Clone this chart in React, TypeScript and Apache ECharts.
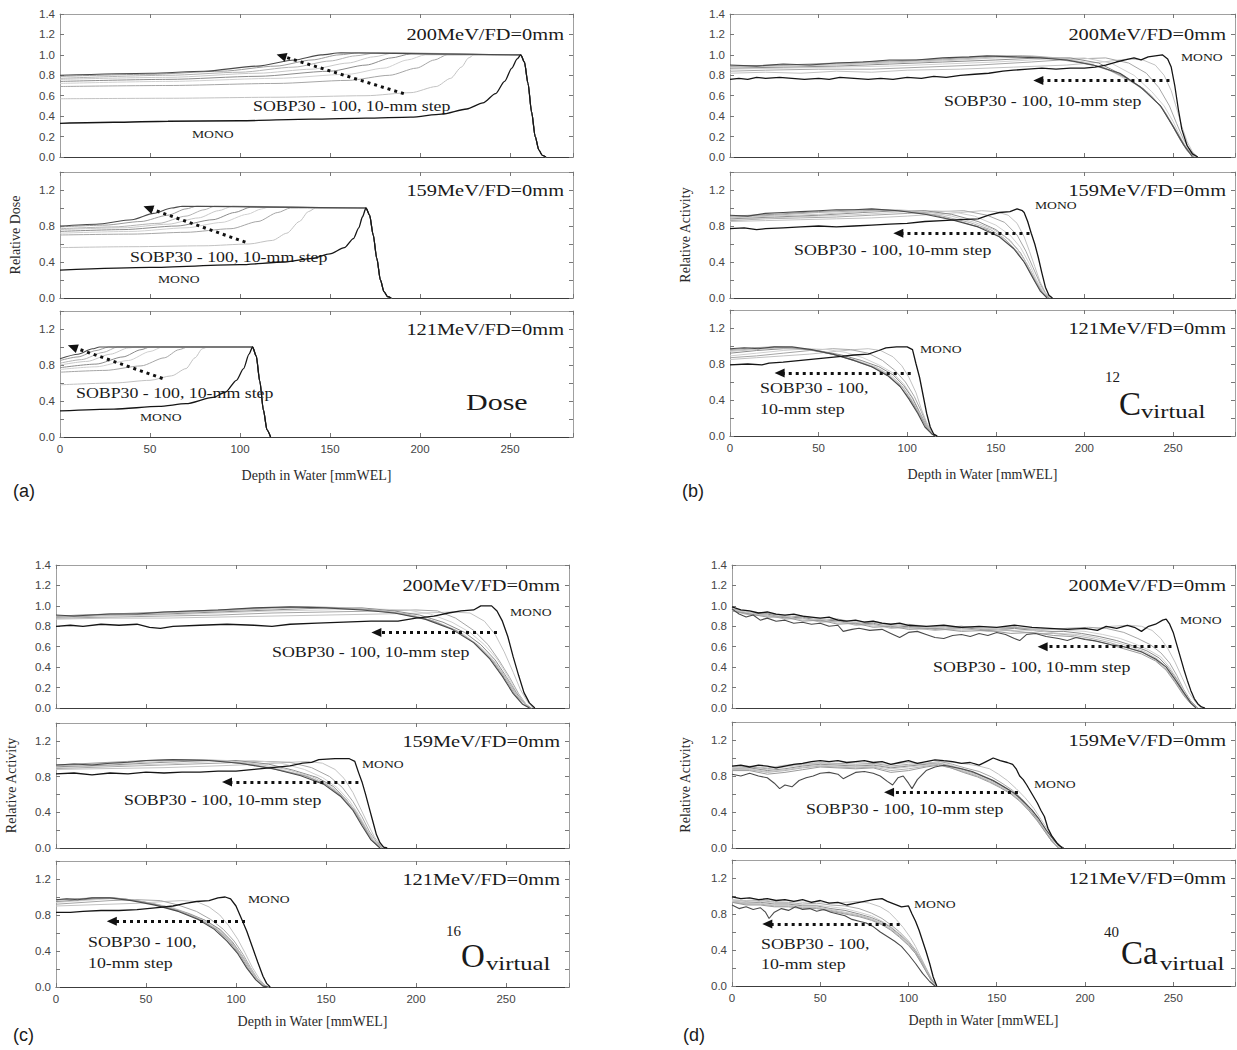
import React, { useEffect, useRef } from "react";
import * as echarts from "echarts";

type Pt = [number, number];

const X_MAX = 285;
const X_TICK_LABELS = [0, 50, 100, 150, 200, 250];
const Y_TICK_LABELS_TOP = [0, 0.2, 0.4, 0.6, 0.8, 1.0, 1.2, 1.4];
const Y_TICK_LABELS_SUB = [0, 0.4, 0.8, 1.2];
const ENERGY_LABELS = ["200MeV/FD=0mm", "159MeV/FD=0mm", "121MeV/FD=0mm"];
const SOBP_NAMES = ["SOBP30", "SOBP40", "SOBP50", "SOBP60", "SOBP70", "SOBP80", "SOBP90", "SOBP100"];
const X_TITLE = "Depth in Water [mmWEL]";

// ---------------- (a) Dose ----------------
const A200_FALL: Pt[] = [[258, 0.93], [260, 0.72], [262, 0.44], [264, 0.2], [266, 0.07], [268, 0.015], [270, 0]];
const A200_MONO: Pt[] = [[0, 0.33], [30, 0.34], [60, 0.35], [100, 0.355], [140, 0.37], [170, 0.38], [195, 0.39], [212, 0.42], [226, 0.47], [235, 0.53], [242, 0.62], [247, 0.74], [251, 0.87], [254, 0.96], [256, 1.0]];
const A200_SOBP: Pt[][] = [
  [[0, 0.57], [60, 0.575], [120, 0.585], [170, 0.6], [195, 0.63], [209, 0.69], [217, 0.77], [223, 0.88], [227, 0.97], [230, 1.0], [256, 1.0]],
  [[0, 0.69], [60, 0.7], [120, 0.72], [160, 0.75], [183, 0.8], [198, 0.87], [208, 0.95], [215, 1.0], [256, 1.0]],
  [[0, 0.72], [60, 0.74], [120, 0.77], [160, 0.81], [180, 0.87], [193, 0.95], [203, 1.0], [256, 1.0]],
  [[0, 0.74], [60, 0.76], [110, 0.79], [150, 0.84], [170, 0.9], [184, 0.97], [195, 1.01], [256, 1.0]],
  [[0, 0.76], [60, 0.78], [110, 0.82], [140, 0.86], [160, 0.92], [174, 0.98], [186, 1.02], [256, 1.0]],
  [[0, 0.77], [60, 0.8], [100, 0.83], [130, 0.88], [150, 0.94], [164, 0.99], [176, 1.02], [256, 1.0]],
  [[0, 0.79], [50, 0.81], [90, 0.84], [120, 0.89], [140, 0.95], [155, 1.0], [166, 1.02], [256, 1.0]],
  [[0, 0.8], [50, 0.82], [80, 0.84], [110, 0.89], [130, 0.95], [145, 1.0], [156, 1.02], [256, 1.0]],
];
const A200_ARROW: Pt[] = [[191, 0.62], [123, 0.99]];

const A159_FALL: Pt[] = [[172, 0.92], [174, 0.7], [176, 0.44], [178, 0.2], [180, 0.07], [182, 0.015], [184, 0]];
const A159_MONO: Pt[] = [[0, 0.31], [50, 0.34], [100, 0.37], [125, 0.4], [140, 0.44], [150, 0.49], [158, 0.56], [163, 0.66], [166, 0.78], [168, 0.9], [170, 1.0]];
const A159_SOBP: Pt[][] = [
  [[0, 0.56], [40, 0.57], [80, 0.58], [105, 0.6], [118, 0.64], [126, 0.72], [133, 0.85], [138, 0.96], [142, 1.0], [170, 1.0]],
  [[0, 0.7], [40, 0.71], [70, 0.73], [95, 0.77], [110, 0.85], [121, 0.95], [128, 1.0], [170, 1.0]],
  [[0, 0.72], [40, 0.74], [70, 0.78], [90, 0.84], [104, 0.93], [112, 0.99], [116, 1.01], [170, 1.0]],
  [[0, 0.74], [35, 0.76], [65, 0.8], [85, 0.87], [97, 0.95], [106, 1.01], [170, 1.0]],
  [[0, 0.76], [35, 0.78], [60, 0.82], [77, 0.89], [88, 0.97], [96, 1.02], [170, 1.0]],
  [[0, 0.77], [30, 0.79], [55, 0.83], [70, 0.91], [80, 0.98], [86, 1.02], [170, 1.0]],
  [[0, 0.79], [25, 0.81], [45, 0.85], [60, 0.92], [70, 0.99], [76, 1.02], [170, 1.0]],
  [[0, 0.8], [20, 0.82], [40, 0.87], [52, 0.94], [62, 1.0], [68, 1.02], [170, 1.0]],
];
const A159_ARROW: Pt[] = [[103, 0.62], [49, 1.0]];

const A121_FALL: Pt[] = [[109, 0.9], [111, 0.62], [113, 0.3], [115, 0.08], [117, 0]];
const A121_MONO: Pt[] = [[0, 0.29], [30, 0.31], [55, 0.34], [70, 0.37], [85, 0.44], [92, 0.5], [98, 0.63], [102, 0.76], [105, 0.92], [107, 1.0]];
const A121_SOBP: Pt[][] = [
  [[0, 0.58], [30, 0.6], [50, 0.63], [62, 0.68], [70, 0.76], [75, 0.88], [79, 0.98], [82, 1.0], [107, 1.0]],
  [[0, 0.72], [25, 0.74], [45, 0.79], [58, 0.88], [66, 0.97], [71, 1.0], [107, 1.0]],
  [[0, 0.75], [20, 0.78], [38, 0.85], [50, 0.95], [57, 1.0], [107, 1.0]],
  [[0, 0.77], [20, 0.81], [35, 0.89], [45, 0.97], [50, 1.0], [107, 1.0]],
  [[0, 0.8], [15, 0.84], [28, 0.92], [38, 0.99], [43, 1.0], [107, 1.0]],
  [[0, 0.82], [12, 0.86], [24, 0.94], [32, 1.0], [107, 1.0]],
  [[0, 0.85], [10, 0.89], [20, 0.96], [27, 1.0], [107, 1.0]],
  [[0, 0.87], [10, 0.92], [18, 0.98], [22, 1.0], [107, 1.0]],
];
const A121_ARROW: Pt[] = [[57, 0.65], [7, 1.0]];

// ---------------- (b) 12C virtual ----------------
const B200_MONO: Pt[] = [[0, 0.76], [5, 0.77], [10, 0.76], [15, 0.78], [20, 0.77], [28, 0.78], [35, 0.77], [42, 0.76], [50, 0.77], [56, 0.76], [62, 0.78], [70, 0.77], [78, 0.76], [85, 0.77], [92, 0.76], [100, 0.78], [108, 0.77], [115, 0.79], [122, 0.78], [130, 0.8], [138, 0.81], [146, 0.82], [154, 0.84], [160, 0.85], [168, 0.86], [176, 0.87], [184, 0.86], [192, 0.87], [200, 0.87], [206, 0.88], [212, 0.9], [218, 0.93], [223, 0.95], [228, 0.97], [232, 0.95], [236, 0.98], [240, 0.99], [244, 1.0], [247, 0.96], [249, 0.88], [251, 0.7], [253, 0.47], [255, 0.27], [258, 0.11], [261, 0.03], [264, 0]];
const B200_SOBP: Pt[][] = [
  [[0, 0.82], [20, 0.83], [40, 0.82], [60, 0.84], [80, 0.83], [100, 0.85], [130, 0.86], [160, 0.88], [190, 0.9], [210, 0.93], [225, 0.96], [233, 0.95], [240, 0.9], [245, 0.8], [249, 0.65], [252, 0.48], [255, 0.3], [258, 0.15], [261, 0.05], [264, 0]],
  [[0, 0.84], [20, 0.85], [50, 0.86], [80, 0.86], [110, 0.88], [140, 0.9], [170, 0.93], [195, 0.96], [212, 0.97], [225, 0.92], [235, 0.82], [242, 0.68], [248, 0.5], [252, 0.33], [256, 0.17], [260, 0.06], [263, 0]],
  [[0, 0.86], [30, 0.87], [60, 0.88], [90, 0.89], [120, 0.91], [150, 0.93], [180, 0.96], [200, 0.97], [215, 0.92], [228, 0.8], [238, 0.64], [245, 0.5], [250, 0.35], [255, 0.17], [259, 0.06], [263, 0]],
  [[0, 0.87], [30, 0.88], [60, 0.89], [90, 0.91], [120, 0.93], [150, 0.95], [175, 0.97], [192, 0.97], [208, 0.92], [222, 0.8], [234, 0.66], [243, 0.5], [249, 0.33], [254, 0.17], [258, 0.06], [262, 0]],
  [[0, 0.88], [30, 0.89], [60, 0.9], [90, 0.92], [120, 0.94], [150, 0.97], [170, 0.98], [185, 0.97], [200, 0.93], [215, 0.84], [228, 0.72], [238, 0.6], [246, 0.43], [252, 0.25], [257, 0.1], [262, 0]],
  [[0, 0.89], [30, 0.9], [60, 0.91], [90, 0.93], [120, 0.95], [150, 0.98], [170, 0.99], [185, 0.97], [200, 0.92], [212, 0.87], [225, 0.76], [236, 0.63], [245, 0.45], [251, 0.27], [257, 0.1], [262, 0]],
  [[0, 0.89], [30, 0.9], [60, 0.92], [90, 0.94], [120, 0.96], [150, 0.99], [165, 0.99], [180, 0.97], [195, 0.93], [210, 0.88], [222, 0.79], [234, 0.66], [244, 0.48], [251, 0.28], [257, 0.1], [262, 0]],
  [[0, 0.9], [15, 0.89], [30, 0.91], [45, 0.9], [60, 0.92], [75, 0.93], [90, 0.95], [105, 0.95], [120, 0.97], [135, 0.98], [145, 0.99], [160, 0.98], [175, 0.97], [190, 0.95], [205, 0.9], [220, 0.82], [232, 0.68], [243, 0.5], [250, 0.3], [256, 0.12], [261, 0]],
];
const B200_ARROW: Pt[] = [[248, 0.75], [174, 0.75]];

const B159_MONO: Pt[] = [[0, 0.77], [8, 0.78], [15, 0.76], [20, 0.77], [30, 0.78], [40, 0.79], [50, 0.8], [60, 0.79], [70, 0.8], [80, 0.81], [90, 0.82], [100, 0.83], [110, 0.85], [120, 0.86], [130, 0.87], [140, 0.88], [146, 0.92], [152, 0.95], [158, 0.96], [162, 0.99], [165, 0.97], [166, 0.95], [168, 0.85], [170, 0.72], [172, 0.6], [174, 0.45], [176, 0.28], [178, 0.12], [180, 0.03], [182, 0]];
const B159_SOBP: Pt[][] = [
  [[0, 0.85], [20, 0.86], [40, 0.87], [60, 0.88], [80, 0.89], [100, 0.91], [115, 0.93], [130, 0.95], [142, 0.97], [150, 0.96], [157, 0.92], [162, 0.83], [166, 0.68], [169, 0.52], [172, 0.35], [175, 0.18], [178, 0.06], [181, 0]],
  [[0, 0.86], [20, 0.88], [40, 0.89], [60, 0.9], [80, 0.92], [100, 0.94], [118, 0.96], [132, 0.97], [145, 0.92], [155, 0.84], [162, 0.7], [167, 0.52], [171, 0.34], [175, 0.16], [178, 0.05], [181, 0]],
  [[0, 0.87], [25, 0.89], [50, 0.91], [75, 0.93], [100, 0.96], [115, 0.97], [125, 0.96], [138, 0.91], [150, 0.81], [158, 0.7], [164, 0.56], [169, 0.38], [173, 0.2], [177, 0.07], [180, 0]],
  [[0, 0.88], [25, 0.9], [50, 0.92], [75, 0.95], [95, 0.97], [110, 0.97], [125, 0.93], [140, 0.85], [150, 0.76], [158, 0.64], [164, 0.5], [169, 0.33], [173, 0.17], [177, 0.05], [180, 0]],
  [[0, 0.89], [25, 0.91], [50, 0.93], [75, 0.96], [95, 0.98], [110, 0.96], [125, 0.91], [138, 0.84], [148, 0.77], [156, 0.67], [162, 0.55], [167, 0.4], [172, 0.22], [176, 0.08], [179, 0]],
  [[0, 0.9], [25, 0.92], [50, 0.95], [75, 0.97], [90, 0.98], [105, 0.96], [120, 0.91], [135, 0.84], [147, 0.76], [155, 0.66], [162, 0.52], [167, 0.37], [172, 0.2], [176, 0.07], [179, 0]],
  [[0, 0.91], [25, 0.93], [50, 0.96], [70, 0.98], [85, 0.98], [100, 0.96], [115, 0.92], [130, 0.85], [145, 0.76], [154, 0.66], [161, 0.53], [167, 0.37], [172, 0.19], [176, 0.06], [179, 0]],
  [[0, 0.92], [10, 0.91], [20, 0.94], [30, 0.95], [40, 0.96], [50, 0.97], [60, 0.98], [70, 0.98], [80, 0.99], [95, 0.97], [110, 0.93], [125, 0.87], [140, 0.79], [152, 0.68], [160, 0.55], [166, 0.4], [171, 0.22], [175, 0.08], [179, 0]],
];
const B159_ARROW: Pt[] = [[169, 0.72], [95, 0.72]];

const B121_MONO: Pt[] = [[0, 0.79], [10, 0.8], [18, 0.79], [22, 0.81], [30, 0.82], [40, 0.84], [50, 0.86], [60, 0.88], [70, 0.9], [78, 0.91], [84, 0.95], [88, 0.98], [94, 0.99], [100, 0.99], [103, 0.96], [105, 0.8], [107, 0.65], [109, 0.45], [111, 0.25], [113, 0.1], [115, 0.02], [117, 0]];
const B121_SOBP: Pt[][] = [
  [[0, 0.85], [15, 0.87], [30, 0.89], [45, 0.91], [60, 0.94], [70, 0.96], [78, 0.97], [85, 0.95], [92, 0.88], [97, 0.78], [101, 0.65], [105, 0.48], [108, 0.3], [111, 0.15], [114, 0.04], [116, 0]],
  [[0, 0.87], [15, 0.89], [30, 0.92], [45, 0.95], [58, 0.97], [68, 0.96], [78, 0.92], [86, 0.84], [93, 0.73], [99, 0.6], [104, 0.44], [108, 0.27], [111, 0.13], [114, 0.03], [116, 0]],
  [[0, 0.89], [15, 0.92], [30, 0.95], [45, 0.97], [55, 0.96], [65, 0.93], [75, 0.87], [84, 0.79], [92, 0.7], [98, 0.58], [103, 0.43], [107, 0.27], [111, 0.12], [114, 0.03], [116, 0]],
  [[0, 0.92], [15, 0.95], [30, 0.97], [40, 0.97], [52, 0.94], [63, 0.9], [74, 0.84], [84, 0.77], [92, 0.68], [98, 0.56], [103, 0.42], [107, 0.26], [111, 0.11], [114, 0.02], [116, 0]],
  [[0, 0.94], [15, 0.96], [28, 0.98], [38, 0.97], [50, 0.94], [62, 0.89], [73, 0.83], [83, 0.76], [91, 0.67], [97, 0.56], [102, 0.42], [107, 0.25], [111, 0.1], [114, 0.02], [116, 0]],
  [[0, 0.95], [15, 0.97], [25, 0.98], [35, 0.98], [48, 0.95], [60, 0.9], [72, 0.83], [82, 0.76], [90, 0.67], [97, 0.55], [102, 0.41], [107, 0.24], [111, 0.1], [114, 0.02], [116, 0]],
  [[0, 0.96], [12, 0.98], [25, 0.99], [35, 0.98], [47, 0.95], [60, 0.9], [71, 0.83], [81, 0.76], [90, 0.66], [96, 0.55], [102, 0.4], [107, 0.23], [111, 0.09], [114, 0.02], [116, 0]],
  [[0, 0.97], [8, 0.98], [16, 0.97], [25, 0.99], [35, 0.99], [46, 0.96], [58, 0.91], [70, 0.84], [80, 0.77], [89, 0.67], [96, 0.55], [101, 0.41], [106, 0.25], [110, 0.1], [114, 0.02], [116, 0]],
];
const B121_ARROW: Pt[] = [[102, 0.7], [28, 0.7]];

// ---------------- (c) 16O virtual ----------------
const C200_MONO: Pt[] = [[0, 0.8], [8, 0.81], [15, 0.8], [25, 0.82], [35, 0.81], [45, 0.82], [52, 0.79], [58, 0.78], [65, 0.8], [80, 0.81], [95, 0.82], [110, 0.81], [120, 0.8], [130, 0.82], [145, 0.83], [160, 0.84], [175, 0.85], [190, 0.85], [200, 0.88], [210, 0.9], [218, 0.93], [225, 0.95], [232, 0.96], [236, 1.0], [242, 1.0], [245, 0.95], [248, 0.85], [251, 0.7], [254, 0.5], [257, 0.32], [260, 0.15], [263, 0.05], [266, 0]];
const C200_SOBP: Pt[][] = [
  [[0, 0.87], [30, 0.88], [60, 0.88], [90, 0.89], [120, 0.9], [150, 0.91], [180, 0.92], [205, 0.93], [220, 0.94], [230, 0.93], [238, 0.85], [244, 0.72], [249, 0.55], [254, 0.35], [258, 0.18], [262, 0.06], [265, 0]],
  [[0, 0.88], [30, 0.89], [60, 0.9], [90, 0.91], [120, 0.93], [150, 0.94], [180, 0.95], [200, 0.96], [212, 0.95], [222, 0.88], [232, 0.76], [240, 0.62], [246, 0.47], [252, 0.3], [257, 0.14], [261, 0.04], [264, 0]],
  [[0, 0.89], [30, 0.9], [60, 0.91], [90, 0.93], [120, 0.95], [150, 0.96], [175, 0.97], [195, 0.96], [208, 0.92], [220, 0.84], [230, 0.74], [238, 0.62], [245, 0.48], [251, 0.31], [256, 0.15], [261, 0.04], [264, 0]],
  [[0, 0.89], [30, 0.91], [60, 0.92], [90, 0.94], [120, 0.96], [150, 0.98], [170, 0.98], [188, 0.95], [202, 0.91], [215, 0.84], [227, 0.74], [236, 0.62], [244, 0.47], [250, 0.31], [256, 0.14], [261, 0.03], [264, 0]],
  [[0, 0.9], [30, 0.91], [60, 0.93], [90, 0.95], [120, 0.97], [145, 0.99], [165, 0.98], [182, 0.95], [198, 0.91], [212, 0.84], [225, 0.74], [235, 0.61], [243, 0.47], [250, 0.3], [256, 0.13], [261, 0.03], [264, 0]],
  [[0, 0.9], [30, 0.92], [60, 0.93], [90, 0.95], [120, 0.98], [140, 0.99], [160, 0.98], [178, 0.96], [195, 0.92], [210, 0.85], [223, 0.75], [234, 0.62], [243, 0.46], [250, 0.29], [256, 0.12], [261, 0.03], [264, 0]],
  [[0, 0.9], [30, 0.92], [60, 0.94], [90, 0.96], [115, 0.98], [135, 0.99], [155, 0.98], [175, 0.96], [192, 0.92], [208, 0.86], [222, 0.76], [233, 0.63], [242, 0.47], [249, 0.3], [255, 0.13], [260, 0.03], [264, 0]],
  [[0, 0.91], [10, 0.9], [20, 0.91], [30, 0.92], [45, 0.92], [60, 0.94], [75, 0.95], [90, 0.96], [110, 0.98], [130, 0.99], [150, 0.98], [170, 0.96], [188, 0.93], [205, 0.87], [220, 0.77], [232, 0.64], [241, 0.48], [248, 0.31], [254, 0.14], [259, 0.04], [263, 0]],
];
const C200_ARROW: Pt[] = [[245, 0.74], [178, 0.74]];

const C159_MONO: Pt[] = [[0, 0.83], [10, 0.84], [20, 0.82], [30, 0.84], [40, 0.83], [50, 0.85], [60, 0.84], [70, 0.85], [80, 0.85], [90, 0.86], [100, 0.86], [110, 0.88], [120, 0.9], [130, 0.92], [137, 0.95], [142, 0.96], [146, 0.99], [155, 1.0], [163, 1.0], [166, 0.97], [168, 0.85], [170, 0.74], [172, 0.6], [174, 0.45], [176, 0.3], [178, 0.15], [180, 0.06], [182, 0.01], [184, 0]];
const C159_SOBP: Pt[][] = [
  [[0, 0.88], [30, 0.89], [60, 0.9], [90, 0.92], [115, 0.94], [130, 0.96], [140, 0.97], [148, 0.95], [155, 0.88], [160, 0.78], [165, 0.62], [169, 0.45], [173, 0.28], [177, 0.12], [180, 0.04], [183, 0]],
  [[0, 0.89], [30, 0.91], [60, 0.93], [90, 0.95], [115, 0.97], [130, 0.96], [142, 0.9], [152, 0.8], [159, 0.68], [165, 0.52], [170, 0.35], [174, 0.19], [178, 0.07], [182, 0]],
  [[0, 0.9], [30, 0.92], [60, 0.94], [90, 0.97], [110, 0.98], [125, 0.95], [138, 0.88], [148, 0.79], [156, 0.68], [163, 0.53], [168, 0.38], [173, 0.2], [177, 0.08], [181, 0]],
  [[0, 0.91], [30, 0.93], [60, 0.96], [85, 0.98], [100, 0.98], [118, 0.94], [132, 0.87], [145, 0.79], [154, 0.69], [161, 0.55], [167, 0.39], [172, 0.22], [176, 0.09], [181, 0]],
  [[0, 0.92], [30, 0.94], [60, 0.97], [80, 0.99], [95, 0.98], [112, 0.94], [128, 0.88], [142, 0.8], [152, 0.7], [160, 0.57], [166, 0.42], [171, 0.25], [176, 0.09], [180, 0]],
  [[0, 0.92], [30, 0.95], [55, 0.98], [75, 0.99], [90, 0.98], [108, 0.94], [124, 0.88], [140, 0.8], [151, 0.7], [159, 0.58], [166, 0.42], [171, 0.24], [176, 0.08], [180, 0]],
  [[0, 0.93], [30, 0.96], [50, 0.98], [70, 0.99], [88, 0.98], [105, 0.94], [122, 0.88], [138, 0.81], [150, 0.71], [158, 0.59], [165, 0.43], [171, 0.24], [175, 0.09], [180, 0]],
  [[0, 0.93], [10, 0.94], [20, 0.93], [30, 0.95], [40, 0.96], [50, 0.98], [65, 0.99], [85, 0.98], [102, 0.95], [120, 0.89], [136, 0.81], [149, 0.71], [158, 0.58], [165, 0.42], [170, 0.25], [175, 0.09], [180, 0]],
];
const C159_ARROW: Pt[] = [[168, 0.74], [95, 0.74]];

const C121_MONO: Pt[] = [[0, 0.83], [8, 0.83], [15, 0.84], [25, 0.85], [35, 0.85], [45, 0.86], [55, 0.88], [65, 0.9], [72, 0.93], [78, 0.95], [85, 0.96], [90, 0.99], [94, 1.0], [97, 0.98], [100, 0.9], [103, 0.76], [106, 0.62], [109, 0.45], [112, 0.28], [115, 0.12], [117, 0.04], [119, 0]];
const C121_SOBP: Pt[][] = [
  [[0, 0.9], [15, 0.91], [30, 0.92], [45, 0.93], [60, 0.95], [70, 0.96], [78, 0.95], [85, 0.89], [91, 0.8], [96, 0.68], [101, 0.53], [105, 0.38], [109, 0.22], [113, 0.09], [116, 0.02], [118, 0]],
  [[0, 0.92], [15, 0.94], [30, 0.96], [45, 0.97], [58, 0.96], [68, 0.91], [78, 0.84], [86, 0.75], [93, 0.64], [99, 0.51], [104, 0.36], [108, 0.22], [112, 0.09], [116, 0.02], [118, 0]],
  [[0, 0.94], [15, 0.96], [30, 0.98], [42, 0.97], [54, 0.93], [65, 0.88], [75, 0.81], [84, 0.73], [92, 0.63], [98, 0.5], [103, 0.36], [108, 0.21], [112, 0.08], [116, 0.01], [118, 0]],
  [[0, 0.95], [15, 0.97], [28, 0.99], [38, 0.98], [50, 0.94], [62, 0.89], [73, 0.82], [83, 0.74], [91, 0.64], [98, 0.5], [103, 0.36], [108, 0.2], [112, 0.08], [116, 0.01], [118, 0]],
  [[0, 0.96], [12, 0.98], [25, 0.99], [35, 0.98], [47, 0.95], [60, 0.9], [71, 0.83], [82, 0.74], [90, 0.64], [97, 0.51], [103, 0.36], [108, 0.2], [112, 0.08], [116, 0.01], [118, 0]],
  [[0, 0.97], [12, 0.98], [25, 0.99], [33, 0.99], [45, 0.96], [58, 0.9], [70, 0.83], [81, 0.74], [90, 0.63], [97, 0.5], [103, 0.35], [108, 0.19], [112, 0.07], [116, 0.01], [118, 0]],
  [[0, 0.97], [10, 0.98], [22, 0.99], [32, 0.99], [44, 0.96], [57, 0.91], [69, 0.84], [80, 0.75], [89, 0.64], [96, 0.51], [102, 0.36], [107, 0.2], [111, 0.08], [115, 0.01], [118, 0]],
  [[0, 0.97], [6, 0.98], [12, 0.97], [20, 0.99], [30, 0.99], [42, 0.96], [55, 0.91], [68, 0.84], [79, 0.75], [88, 0.64], [95, 0.51], [101, 0.37], [106, 0.21], [111, 0.08], [115, 0.01], [118, 0]],
];
const C121_ARROW: Pt[] = [[105, 0.73], [31, 0.73]];

// ---------------- (d) 40Ca virtual ----------------
const D200_MONO: Pt[] = [[0, 0.99], [5, 0.96], [10, 0.95], [15, 0.93], [20, 0.94], [25, 0.92], [30, 0.91], [35, 0.92], [40, 0.9], [45, 0.89], [50, 0.88], [55, 0.89], [60, 0.86], [65, 0.85], [70, 0.86], [75, 0.84], [80, 0.85], [85, 0.83], [90, 0.82], [95, 0.83], [100, 0.81], [110, 0.8], [120, 0.81], [130, 0.79], [140, 0.8], [150, 0.79], [160, 0.81], [170, 0.79], [180, 0.78], [190, 0.77], [200, 0.78], [207, 0.76], [212, 0.8], [218, 0.78], [224, 0.81], [228, 0.79], [232, 0.75], [236, 0.8], [240, 0.82], [244, 0.86], [246, 0.87], [248, 0.82], [250, 0.74], [252, 0.62], [254, 0.5], [256, 0.38], [258, 0.27], [260, 0.17], [262, 0.09], [264, 0.04], [266, 0.01], [268, 0]];
const D200_SOBP: Pt[][] = [
  [[0, 0.97], [10, 0.94], [20, 0.93], [30, 0.9], [40, 0.9], [50, 0.87], [60, 0.87], [70, 0.84], [80, 0.85], [90, 0.81], [100, 0.82], [115, 0.79], [130, 0.8], [145, 0.78], [160, 0.79], [175, 0.77], [190, 0.78], [205, 0.77], [215, 0.8], [225, 0.81], [232, 0.8], [238, 0.76], [243, 0.68], [247, 0.58], [251, 0.45], [255, 0.3], [259, 0.15], [263, 0.05], [266, 0]],
  [[0, 0.97], [10, 0.93], [20, 0.93], [30, 0.89], [40, 0.9], [50, 0.86], [60, 0.87], [70, 0.83], [80, 0.84], [90, 0.81], [100, 0.81], [115, 0.78], [130, 0.8], [145, 0.77], [160, 0.79], [175, 0.76], [190, 0.78], [202, 0.79], [212, 0.78], [222, 0.74], [230, 0.68], [237, 0.62], [243, 0.54], [248, 0.44], [252, 0.32], [256, 0.18], [260, 0.07], [264, 0]],
  [[0, 0.96], [10, 0.94], [20, 0.9], [30, 0.91], [40, 0.87], [50, 0.88], [60, 0.84], [70, 0.85], [80, 0.81], [90, 0.82], [100, 0.79], [115, 0.8], [130, 0.77], [145, 0.79], [160, 0.76], [175, 0.78], [190, 0.76], [200, 0.75], [210, 0.72], [220, 0.68], [228, 0.63], [236, 0.57], [243, 0.5], [248, 0.4], [252, 0.29], [256, 0.16], [260, 0.06], [263, 0]],
  [[0, 0.96], [10, 0.92], [20, 0.92], [30, 0.88], [40, 0.89], [50, 0.85], [60, 0.86], [70, 0.82], [80, 0.83], [90, 0.79], [100, 0.8], [115, 0.77], [130, 0.79], [145, 0.76], [160, 0.78], [175, 0.75], [188, 0.75], [198, 0.73], [208, 0.7], [218, 0.66], [227, 0.61], [235, 0.56], [242, 0.49], [247, 0.4], [252, 0.28], [256, 0.15], [260, 0.05], [263, 0]],
  [[0, 0.96], [10, 0.93], [20, 0.9], [30, 0.9], [40, 0.86], [50, 0.87], [60, 0.83], [70, 0.84], [80, 0.8], [90, 0.81], [100, 0.78], [115, 0.79], [130, 0.76], [145, 0.78], [160, 0.75], [172, 0.76], [185, 0.73], [196, 0.72], [206, 0.69], [216, 0.65], [226, 0.6], [234, 0.55], [241, 0.48], [247, 0.39], [252, 0.27], [256, 0.14], [260, 0.05], [263, 0]],
  [[0, 0.95], [10, 0.91], [20, 0.91], [30, 0.87], [40, 0.88], [50, 0.84], [60, 0.85], [70, 0.81], [80, 0.82], [90, 0.78], [100, 0.79], [115, 0.76], [130, 0.78], [145, 0.75], [158, 0.76], [170, 0.73], [182, 0.73], [194, 0.71], [204, 0.68], [214, 0.64], [224, 0.59], [233, 0.54], [240, 0.47], [246, 0.38], [251, 0.26], [256, 0.13], [260, 0.04], [263, 0]],
  [[0, 0.95], [10, 0.92], [20, 0.89], [30, 0.89], [40, 0.85], [50, 0.86], [60, 0.82], [70, 0.83], [80, 0.79], [90, 0.8], [100, 0.77], [115, 0.78], [130, 0.75], [145, 0.76], [158, 0.73], [170, 0.74], [182, 0.71], [192, 0.7], [202, 0.67], [212, 0.63], [222, 0.58], [232, 0.53], [240, 0.46], [246, 0.37], [251, 0.25], [256, 0.12], [260, 0.04], [263, 0]],
  [[0, 0.97], [4, 0.92], [8, 0.89], [12, 0.91], [16, 0.86], [20, 0.88], [25, 0.85], [30, 0.86], [35, 0.83], [40, 0.84], [45, 0.82], [50, 0.83], [55, 0.8], [60, 0.81], [63, 0.75], [68, 0.77], [72, 0.78], [78, 0.76], [85, 0.77], [90, 0.73], [95, 0.69], [100, 0.74], [105, 0.75], [110, 0.72], [115, 0.69], [120, 0.68], [125, 0.71], [130, 0.72], [135, 0.7], [140, 0.73], [145, 0.71], [150, 0.74], [155, 0.72], [160, 0.68], [163, 0.66], [167, 0.72], [172, 0.73], [178, 0.7], [185, 0.68], [190, 0.66], [195, 0.69], [200, 0.67], [205, 0.66], [215, 0.62], [222, 0.6], [232, 0.55], [240, 0.48], [246, 0.4], [251, 0.28], [256, 0.15], [260, 0.05], [263, 0]],
];
const D200_ARROW: Pt[] = [[249, 0.6], [176, 0.6]];

const D159_MONO: Pt[] = [[0, 0.91], [5, 0.92], [10, 0.9], [15, 0.92], [20, 0.91], [25, 0.89], [30, 0.91], [35, 0.93], [40, 0.94], [45, 0.96], [50, 0.97], [55, 0.96], [60, 0.97], [65, 0.95], [70, 0.96], [75, 0.97], [80, 0.95], [85, 0.96], [90, 0.93], [95, 0.95], [100, 0.97], [105, 0.94], [110, 0.96], [115, 0.98], [120, 0.97], [125, 0.96], [130, 0.94], [135, 0.95], [140, 0.92], [144, 0.96], [148, 1.0], [152, 0.97], [156, 0.95], [159, 0.93], [161, 0.88], [163, 0.8], [165, 0.76], [167, 0.7], [170, 0.6], [173, 0.5], [175, 0.42], [177, 0.35], [179, 0.22], [181, 0.14], [184, 0.06], [187, 0]];
const D159_SOBP: Pt[][] = [
  [[0, 0.9], [10, 0.91], [20, 0.89], [30, 0.92], [40, 0.94], [50, 0.95], [60, 0.94], [70, 0.95], [80, 0.94], [90, 0.93], [100, 0.95], [110, 0.94], [118, 0.96], [126, 0.95], [134, 0.93], [140, 0.91], [146, 0.88], [151, 0.82], [156, 0.75], [161, 0.66], [166, 0.56], [171, 0.44], [175, 0.32], [179, 0.2], [183, 0.08], [187, 0]],
  [[0, 0.9], [10, 0.9], [20, 0.88], [30, 0.91], [40, 0.93], [50, 0.94], [60, 0.94], [70, 0.93], [80, 0.94], [90, 0.91], [100, 0.93], [110, 0.94], [118, 0.96], [125, 0.93], [132, 0.89], [140, 0.85], [147, 0.79], [153, 0.72], [159, 0.64], [164, 0.55], [169, 0.44], [174, 0.32], [178, 0.2], [182, 0.09], [186, 0]],
  [[0, 0.89], [10, 0.89], [20, 0.87], [30, 0.9], [40, 0.92], [50, 0.94], [60, 0.93], [70, 0.92], [80, 0.93], [90, 0.9], [100, 0.92], [110, 0.94], [117, 0.95], [124, 0.92], [131, 0.88], [139, 0.83], [146, 0.77], [152, 0.71], [158, 0.64], [163, 0.55], [168, 0.45], [173, 0.33], [177, 0.21], [181, 0.09], [185, 0]],
  [[0, 0.88], [10, 0.89], [20, 0.86], [30, 0.88], [40, 0.91], [50, 0.93], [60, 0.92], [70, 0.91], [80, 0.92], [90, 0.89], [100, 0.91], [110, 0.93], [117, 0.94], [124, 0.91], [131, 0.87], [139, 0.82], [146, 0.76], [152, 0.7], [158, 0.63], [163, 0.55], [168, 0.44], [173, 0.32], [177, 0.2], [181, 0.09], [185, 0]],
  [[0, 0.88], [10, 0.88], [20, 0.85], [30, 0.87], [40, 0.9], [50, 0.92], [60, 0.91], [70, 0.9], [80, 0.91], [90, 0.88], [100, 0.9], [110, 0.92], [117, 0.94], [124, 0.9], [131, 0.86], [139, 0.81], [146, 0.75], [152, 0.69], [158, 0.62], [163, 0.54], [168, 0.43], [173, 0.31], [177, 0.2], [181, 0.08], [185, 0]],
  [[0, 0.87], [10, 0.87], [20, 0.84], [30, 0.86], [40, 0.89], [50, 0.91], [60, 0.9], [70, 0.89], [80, 0.9], [90, 0.86], [100, 0.88], [110, 0.91], [117, 0.93], [124, 0.89], [131, 0.85], [139, 0.8], [146, 0.74], [152, 0.68], [158, 0.61], [163, 0.53], [168, 0.42], [173, 0.31], [177, 0.19], [181, 0.08], [185, 0]],
  [[0, 0.86], [10, 0.86], [20, 0.82], [30, 0.84], [40, 0.87], [50, 0.9], [60, 0.89], [70, 0.88], [80, 0.89], [90, 0.84], [100, 0.86], [110, 0.9], [117, 0.92], [124, 0.89], [131, 0.84], [139, 0.79], [146, 0.73], [152, 0.67], [158, 0.6], [163, 0.52], [168, 0.42], [173, 0.3], [177, 0.19], [181, 0.08], [185, 0]],
  [[0, 0.82], [5, 0.8], [10, 0.83], [15, 0.8], [20, 0.78], [24, 0.72], [27, 0.66], [30, 0.7], [34, 0.68], [38, 0.75], [42, 0.78], [46, 0.8], [50, 0.83], [55, 0.84], [60, 0.82], [63, 0.77], [66, 0.8], [70, 0.84], [75, 0.85], [80, 0.83], [84, 0.8], [88, 0.74], [91, 0.7], [94, 0.78], [97, 0.8], [100, 0.72], [102, 0.66], [105, 0.76], [110, 0.86], [115, 0.9], [120, 0.92], [125, 0.9], [130, 0.88], [136, 0.85], [142, 0.8], [148, 0.75], [154, 0.68], [160, 0.61], [165, 0.52], [170, 0.42], [174, 0.32], [178, 0.2], [182, 0.1], [185, 0.03], [188, 0]],
];
const D159_ARROW: Pt[] = [[162, 0.62], [89, 0.62]];

const D121_MONO: Pt[] = [[0, 0.99], [5, 0.97], [10, 0.98], [15, 0.96], [20, 0.97], [25, 0.95], [30, 0.96], [35, 0.94], [40, 0.96], [45, 0.93], [50, 0.95], [55, 0.92], [60, 0.93], [65, 0.9], [70, 0.92], [75, 0.94], [80, 0.96], [85, 0.97], [88, 0.94], [92, 0.91], [96, 0.88], [100, 0.89], [102, 0.8], [104, 0.72], [106, 0.62], [108, 0.5], [110, 0.38], [112, 0.25], [114, 0.1], [116, 0]];
const D121_SOBP: Pt[][] = [
  [[0, 0.96], [8, 0.95], [16, 0.96], [24, 0.94], [32, 0.95], [40, 0.93], [48, 0.94], [56, 0.92], [64, 0.93], [72, 0.94], [78, 0.92], [84, 0.88], [89, 0.82], [93, 0.74], [97, 0.65], [101, 0.54], [104, 0.44], [107, 0.32], [110, 0.2], [113, 0.08], [116, 0]],
  [[0, 0.95], [8, 0.94], [16, 0.95], [24, 0.93], [32, 0.93], [40, 0.91], [48, 0.92], [56, 0.9], [64, 0.89], [72, 0.86], [79, 0.81], [85, 0.75], [90, 0.68], [95, 0.6], [100, 0.5], [104, 0.4], [107, 0.3], [110, 0.19], [113, 0.08], [116, 0]],
  [[0, 0.95], [8, 0.93], [16, 0.94], [24, 0.92], [32, 0.92], [40, 0.9], [48, 0.9], [56, 0.88], [64, 0.86], [72, 0.82], [79, 0.78], [85, 0.72], [90, 0.66], [95, 0.58], [100, 0.49], [104, 0.39], [107, 0.29], [110, 0.18], [113, 0.07], [116, 0]],
  [[0, 0.94], [8, 0.92], [16, 0.93], [24, 0.91], [32, 0.91], [40, 0.89], [48, 0.89], [56, 0.86], [64, 0.84], [72, 0.8], [79, 0.76], [85, 0.71], [90, 0.65], [95, 0.57], [100, 0.48], [104, 0.38], [107, 0.28], [110, 0.17], [113, 0.07], [116, 0]],
  [[0, 0.94], [8, 0.92], [16, 0.92], [24, 0.9], [32, 0.9], [40, 0.88], [48, 0.88], [56, 0.85], [64, 0.82], [72, 0.79], [79, 0.75], [85, 0.7], [90, 0.64], [95, 0.56], [100, 0.47], [104, 0.37], [107, 0.27], [110, 0.17], [113, 0.06], [116, 0]],
  [[0, 0.93], [8, 0.91], [16, 0.91], [24, 0.89], [32, 0.89], [40, 0.87], [48, 0.87], [56, 0.84], [64, 0.81], [72, 0.78], [79, 0.74], [85, 0.69], [90, 0.63], [95, 0.55], [100, 0.46], [104, 0.36], [107, 0.27], [110, 0.16], [113, 0.06], [116, 0]],
  [[0, 0.93], [8, 0.9], [16, 0.9], [24, 0.88], [32, 0.88], [40, 0.86], [48, 0.86], [56, 0.83], [64, 0.8], [72, 0.77], [79, 0.73], [85, 0.68], [90, 0.62], [95, 0.54], [100, 0.45], [104, 0.36], [107, 0.26], [110, 0.16], [113, 0.06], [116, 0]],
  [[0, 0.9], [4, 0.86], [8, 0.88], [12, 0.85], [16, 0.87], [19, 0.82], [21, 0.75], [24, 0.82], [28, 0.86], [32, 0.84], [36, 0.88], [40, 0.85], [44, 0.86], [48, 0.83], [52, 0.85], [56, 0.82], [60, 0.8], [64, 0.78], [68, 0.74], [72, 0.72], [76, 0.7], [80, 0.66], [84, 0.6], [88, 0.55], [92, 0.5], [96, 0.44], [100, 0.35], [104, 0.25], [108, 0.14], [112, 0.05], [115, 0]],
];
const D121_ARROW: Pt[] = [[95, 0.69], [20, 0.69]];

// ---------------- layout & styles ----------------
const SERIF = '"Liberation Serif", "DejaVu Serif", serif';
const SANS = '"Liberation Sans", "DejaVu Sans", sans-serif';
const SOBP_COLORS = ["#c2c2c2", "#a6a6a6", "#d0d0d0", "#8c8c8c", "#c8c8c8", "#b3b3b3", "#9b9b9b", "#4a4a4a"];
const MONO_COLOR = "#151515";

type SubSet = { mono: Pt[]; sobp: Pt[][]; tail: Pt[]; arrow: Pt[] };
type Panel = {
  left: number; width: number; tops: number[]; heights: number[];
  yName: string; smooth: boolean; xNameGap: number; yNameGap: number; sets: SubSet[];
};

const PANELS: Panel[] = [
  {
    left: 60, width: 513, tops: [14, 172, 311], heights: [143, 126, 126], yName: "Relative Dose", smooth: true, xNameGap: 31, yNameGap: 38,
    sets: [
      { mono: A200_MONO, sobp: A200_SOBP, tail: A200_FALL, arrow: A200_ARROW },
      { mono: A159_MONO, sobp: A159_SOBP, tail: A159_FALL, arrow: A159_ARROW },
      { mono: A121_MONO, sobp: A121_SOBP, tail: A121_FALL, arrow: A121_ARROW },
    ],
  },
  {
    left: 730, width: 505, tops: [14, 172, 310], heights: [143, 126, 126], yName: "Relative Activity", smooth: false, xNameGap: 31, yNameGap: 38,
    sets: [
      { mono: B200_MONO, sobp: B200_SOBP, tail: [], arrow: B200_ARROW },
      { mono: B159_MONO, sobp: B159_SOBP, tail: [], arrow: B159_ARROW },
      { mono: B121_MONO, sobp: B121_SOBP, tail: [], arrow: B121_ARROW },
    ],
  },
  {
    left: 56, width: 513, tops: [565, 723, 861], heights: [143, 125, 126], yName: "Relative Activity", smooth: false, xNameGap: 27, yNameGap: 38,
    sets: [
      { mono: C200_MONO, sobp: C200_SOBP, tail: [], arrow: C200_ARROW },
      { mono: C159_MONO, sobp: C159_SOBP, tail: [], arrow: C159_ARROW },
      { mono: C121_MONO, sobp: C121_SOBP, tail: [], arrow: C121_ARROW },
    ],
  },
  {
    left: 732, width: 503, tops: [565, 722, 860], heights: [143, 126, 126], yName: "Relative Activity", smooth: false, xNameGap: 27, yNameGap: 40,
    sets: [
      { mono: D200_MONO, sobp: D200_SOBP, tail: [], arrow: D200_ARROW },
      { mono: D159_MONO, sobp: D159_SOBP, tail: [], arrow: D159_ARROW },
      { mono: D121_MONO, sobp: D121_SOBP, tail: [], arrow: D121_ARROW },
    ],
  },
];

type TextItem = { t: string; x: number; y: number; size: number; sx?: number; align?: string; family?: string };

const SOBP_LABEL = "SOBP30 - 100, 10-mm step";
const TEXTS: TextItem[] = [
  // (a)
  { t: SOBP_LABEL, x: 253, y: 106, size: 15.5, sx: 1.15 },
  { t: SOBP_LABEL, x: 130, y: 257, size: 15.5, sx: 1.15 },
  { t: SOBP_LABEL, x: 76, y: 393, size: 15.5, sx: 1.15 },
  { t: "MONO", x: 192, y: 135, size: 10.5, sx: 1.3 },
  { t: "MONO", x: 158, y: 280, size: 10.5, sx: 1.3 },
  { t: "MONO", x: 140, y: 418, size: 10.5, sx: 1.3 },
  { t: "Dose", x: 466, y: 402, size: 24, sx: 1.25 },
  // (b)
  { t: SOBP_LABEL, x: 944, y: 101, size: 15.5, sx: 1.15 },
  { t: SOBP_LABEL, x: 794, y: 250, size: 15.5, sx: 1.15 },
  { t: "SOBP30 - 100,", x: 760, y: 388, size: 15.5, sx: 1.15 },
  { t: "10-mm step", x: 760, y: 409, size: 15.5, sx: 1.15 },
  { t: "MONO", x: 1181, y: 58, size: 10.5, sx: 1.3 },
  { t: "MONO", x: 1035, y: 206, size: 10.5, sx: 1.3 },
  { t: "MONO", x: 920, y: 350, size: 10.5, sx: 1.3 },
  { t: "12", x: 1105, y: 377, size: 15 },
  { t: "C", x: 1119, y: 404, size: 33 },
  { t: "virtual", x: 1141, y: 412, size: 19, sx: 1.3 },
  // (c)
  { t: SOBP_LABEL, x: 272, y: 652, size: 15.5, sx: 1.15 },
  { t: SOBP_LABEL, x: 124, y: 800, size: 15.5, sx: 1.15 },
  { t: "SOBP30 - 100,", x: 88, y: 942, size: 15.5, sx: 1.15 },
  { t: "10-mm step", x: 88, y: 963, size: 15.5, sx: 1.15 },
  { t: "MONO", x: 510, y: 613, size: 10.5, sx: 1.3 },
  { t: "MONO", x: 362, y: 765, size: 10.5, sx: 1.3 },
  { t: "MONO", x: 248, y: 900, size: 10.5, sx: 1.3 },
  { t: "16", x: 446, y: 931, size: 15 },
  { t: "O", x: 461, y: 956, size: 33 },
  { t: "virtual", x: 486, y: 964, size: 19, sx: 1.3 },
  // (d)
  { t: SOBP_LABEL, x: 933, y: 667, size: 15.5, sx: 1.15 },
  { t: SOBP_LABEL, x: 806, y: 809, size: 15.5, sx: 1.15 },
  { t: "SOBP30 - 100,", x: 761, y: 944, size: 15.5, sx: 1.15 },
  { t: "10-mm step", x: 761, y: 964, size: 15.5, sx: 1.15 },
  { t: "MONO", x: 1180, y: 621, size: 10.5, sx: 1.3 },
  { t: "MONO", x: 1034, y: 785, size: 10.5, sx: 1.3 },
  { t: "MONO", x: 914, y: 905, size: 10.5, sx: 1.3 },
  { t: "40", x: 1104, y: 932, size: 15 },
  { t: "Ca", x: 1121, y: 953, size: 33 },
  { t: "virtual", x: 1160, y: 964, size: 19, sx: 1.3 },
  // panel letters
  { t: "(a)", x: 13, y: 491, size: 18, family: SANS },
  { t: "(b)", x: 682, y: 491, size: 18, family: SANS },
  { t: "(c)", x: 13, y: 1035, size: 18, family: SANS },
  { t: "(d)", x: 683, y: 1035, size: 18, family: SANS },
];

function hasTick(list: number[], v: number) {
  return list.some((t) => Math.abs(t - v) < 1e-6);
}

function buildOption() {
  const grid: any[] = [];
  const xAxis: any[] = [];
  const yAxis: any[] = [];
  const series: any[] = [];
  const graphicEls: any[] = [];
  let g = 0;

  const frameLine = { show: true, onZero: false, lineStyle: { color: "#a0a0a0", width: 1 } };
  const tick = { show: true, inside: true, length: 4, lineStyle: { color: "#777", width: 1 } };

  PANELS.forEach((p) => {
    p.sets.forEach((s, k) => {
      const top = p.tops[k];
      const h = p.heights[k];
      grid.push({ left: p.left, top, width: p.width, height: h, containLabel: false, outerBoundsMode: "none", show: false });
      const isBottom = k === 2;
      const isTop = k === 0;
      xAxis.push({
        type: "value", gridIndex: g, min: 0, max: X_MAX, interval: 50, position: "bottom",
        axisLine: { show: true, onZero: false, lineStyle: { color: "#3c3c3c", width: 1 } },
        axisTick: tick,
        axisLabel: {
          show: isBottom, margin: 6, fontSize: 11.5, color: "#444", fontFamily: SANS,
          formatter: (v: number) => (hasTick(X_TICK_LABELS, v) ? String(Math.round(v)) : ""),
        },
        splitLine: { show: false },
        name: isBottom ? X_TITLE : "",
        nameLocation: "middle", nameGap: p.xNameGap,
        nameTextStyle: { fontFamily: SERIF, fontSize: 14, color: "#2a2a2a" },
      });
      xAxis.push({
        type: "value", gridIndex: g, min: 0, max: X_MAX, interval: 50, position: "top",
        axisLine: frameLine, axisTick: tick, axisLabel: { show: false }, splitLine: { show: false },
      });
      yAxis.push({
        type: "value", gridIndex: g, min: 0, max: 1.4, interval: 0.2, position: "left",
        axisLine: frameLine, axisTick: tick,
        axisLabel: {
          margin: 5, fontSize: 11.5, color: "#444", fontFamily: SANS,
          formatter: (v: number) => (hasTick(isTop ? Y_TICK_LABELS_TOP : Y_TICK_LABELS_SUB, v) ? v.toFixed(1) : ""),
        },
        splitLine: { show: false },
        name: k === 1 ? p.yName : "",
        nameLocation: "middle", nameGap: p.yNameGap, nameRotate: 90,
        nameTextStyle: { fontFamily: SERIF, fontSize: 14, color: "#2a2a2a" },
      });
      yAxis.push({
        type: "value", gridIndex: g, min: 0, max: 1.4, interval: 0.2, position: "right",
        axisLine: frameLine, axisTick: tick, axisLabel: { show: false }, splitLine: { show: false },
      });

      s.sobp.forEach((c, i) => {
        series.push({
          type: "line", name: SOBP_NAMES[i], xAxisIndex: 2 * g, yAxisIndex: 2 * g,
          data: c.concat(s.tail), showSymbol: false, symbol: "none", silent: true,
          smooth: p.smooth ? 0.25 : false, smoothMonotone: "x",
          lineStyle: { color: SOBP_COLORS[i], width: i === 7 ? 1.1 : 1 }, z: 2,
        });
      });
      series.push({
        type: "line", name: "MONO", xAxisIndex: 2 * g, yAxisIndex: 2 * g,
        data: s.mono.concat(s.tail), showSymbol: false, symbol: "none", silent: true,
        smooth: p.smooth ? 0.25 : false, smoothMonotone: "x",
        lineStyle: { color: MONO_COLOR, width: 1.3 }, z: 3,
        markLine: {
          silent: true, symbol: ["none", "triangle"], symbolSize: [9, 10], animation: false,
          label: { show: false }, emphasis: { disabled: true },
          lineStyle: { type: [3, 4], width: 3, color: "#111" },
          data: [[{ coord: s.arrow[0] }, { coord: s.arrow[1] }]],
        },
      });

      // energy label at the 1.2 level, right aligned inside the frame
      graphicEls.push({
        type: "text", x: p.left + p.width - 9, y: top + h * (1 - 1.2 / 1.4), scaleX: 1.2, silent: true,
        style: {
          text: ENERGY_LABELS[k], font: `17px ${SERIF}`, fill: "#1a1a1a",
          align: "right", verticalAlign: "middle", textAlign: "right", textVerticalAlign: "middle",
        },
      });
      g++;
    });
  });

  TEXTS.forEach((t) => {
    graphicEls.push({
      type: "text", x: t.x, y: t.y, scaleX: t.sx ?? 1, silent: true,
      style: {
        text: t.t, font: `${t.size}px ${t.family ?? SERIF}`, fill: "#1a1a1a",
        align: t.align ?? "left", verticalAlign: "middle", textAlign: t.align ?? "left", textVerticalAlign: "middle",
      },
    });
  });

  return {
    animation: false,
    backgroundColor: "#ffffff",
    grid, xAxis, yAxis, series,
    graphic: { elements: graphicEls },
  };
}

export default function App() {
  const ref = useRef<HTMLDivElement>(null);
  useEffect(() => {
    if (!ref.current) return;
    const chart = echarts.init(ref.current, null, { renderer: "svg" });
    chart.setOption(buildOption() as any);
    return () => chart.dispose();
  }, []);
  return (
    <div
      ref={ref}
      style={{ position: "absolute", left: 0, top: 0, width: 1237, height: 1050, background: "#fff" }}
    />
  );
}
